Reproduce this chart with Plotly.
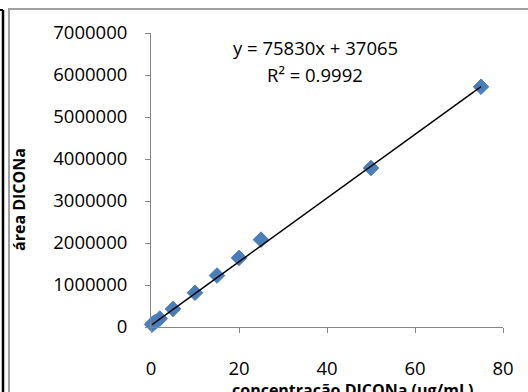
import plotly.graph_objects as go

# Data
concentracao = [0.25, 0.5, 1, 2, 5, 10, 15, 20, 25, 50, 75]
area = [60000, 90000, 120000, 200000, 430000, 815000, 1225000, 1645000, 2080000, 3785000, 5720000]

slope = 75830
intercept = 37065
r2 = 0.9992

x_ticks = [0, 20, 40, 60, 80]
y_ticks = [0, 1000000, 2000000, 3000000, 4000000, 5000000, 6000000, 7000000]

W, H = 528, 392
ML, MR, MT, MB = 151, 25, 33, 65
PW = W - ML - MR
PH = H - MT - MB


def px(x):
    return (x - ML) / PW


def py(y):
    return (H - MB - y) / PH


FONT = "Open Sans"
TICK_SIZE = 18.5

trend_x = [min(concentracao), max(concentracao)]
trend_y = [slope * v + intercept for v in trend_x]

fig = go.Figure()
fig.add_trace(go.Scatter(
    x=concentracao, y=area, mode="markers",
    marker=dict(symbol="diamond", size=12, color="#4A7EBB",
                line=dict(color="#4A7EBB", width=1)),
    showlegend=False, cliponaxis=False,
))
fig.add_trace(go.Scatter(
    x=trend_x, y=trend_y, mode="lines",
    line=dict(color="black", width=1.5), showlegend=False,
))

axis_common = dict(
    showgrid=False, zeroline=False, showline=True, linecolor="#868686",
    linewidth=1, ticks="outside", tickcolor="#868686", ticklen=5,
    tickfont=dict(family=FONT, size=TICK_SIZE, color="black"),
)

fig.update_xaxes(range=[0, 80], tickvals=x_ticks, ticktext=[str(v) for v in x_ticks],
                 ticklabelstandoff=20, **axis_common)
fig.update_yaxes(range=[0, 7000000], tickvals=y_ticks, ticktext=[str(v) for v in y_ticks],
                 ticklabelstandoff=14, **axis_common)

annotations = [
    dict(text=f"y = {slope}x + {intercept}", x=px(315), y=py(48), xref="paper", yref="paper",
         showarrow=False, font=dict(family=FONT, size=TICK_SIZE, color="black"),
         xanchor="center", yanchor="middle"),
    dict(text=f"R² = {r2}", x=px(315), y=py(74), xref="paper", yref="paper",
         showarrow=False, font=dict(family=FONT, size=TICK_SIZE, color="black"),
         xanchor="center", yanchor="middle"),
    dict(text="<b>área DICONa</b>", x=px(19), y=py(200), xref="paper", yref="paper",
         showarrow=False, textangle=-90, font=dict(family=FONT, size=16, color="black"),
         xanchor="center", yanchor="middle"),
    dict(text="<b>concentracão DICONa (µg/mL)</b>", x=px(352), y=py(390), xref="paper", yref="paper",
         showarrow=False, font=dict(family=FONT, size=16, color="black"),
         xanchor="center", yanchor="middle"),
]

shapes = [
    dict(type="rect", xref="paper", yref="paper", x0=px(9), x1=px(560), y0=py(9), y1=py(420),
         line=dict(color="#A0A0A0", width=2)),
    dict(type="line", xref="paper", yref="paper", x0=px(3), x1=px(3), y0=py(10), y1=py(420),
         line=dict(color="black", width=2.5)),
    dict(type="line", xref="paper", yref="paper", x0=px(-10), x1=px(3), y0=py(10), y1=py(10),
         line=dict(color="black", width=2)),
]

fig.update_layout(
    width=W, height=H, margin=dict(l=ML, r=MR, t=MT, b=MB),
    paper_bgcolor="white", plot_bgcolor="white",
    annotations=annotations, shapes=shapes,
)

fig.write_html("out.html")
